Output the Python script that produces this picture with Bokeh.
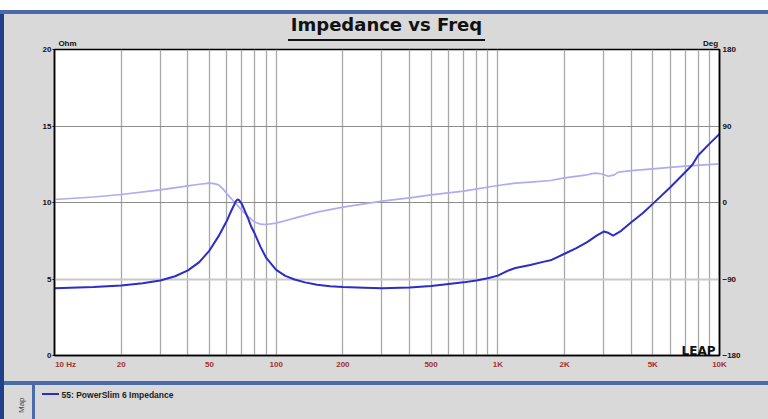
from bokeh.plotting import figure
from bokeh.models import (Range1d, LinearAxis, LinearScale, FixedTicker, Grid,
                          Label, Title)
from bokeh.embed import file_html
from bokeh.resources import INLINE

# ---------------- data ----------------
freq_z = [10, 15, 20, 25, 30, 35, 40, 45, 50, 55, 60, 62, 64, 66, 67, 68, 70, 72,
          75, 77, 80, 85, 90, 100, 110, 121, 135, 153, 175, 200, 250, 300, 400, 500,
          600, 700, 800, 900, 1000, 1100, 1200, 1400, 1600, 1729, 2000, 2250, 2529,
          2800, 3006, 3150, 3314, 3600, 4000, 4500, 5000, 6000, 7000, 7534, 8000,
          9000, 10000]
impedance = [4.40, 4.48, 4.58, 4.72, 4.90, 5.18, 5.56, 6.10, 6.86, 7.80, 8.82, 9.30,
             9.72, 10.12, 10.2, 10.15, 9.90, 9.50, 8.90, 8.45, 7.97, 7.10, 6.40, 5.60,
             5.20, 4.97, 4.78, 4.62, 4.52, 4.47, 4.42, 4.40, 4.45, 4.55, 4.67, 4.78,
             4.90, 5.05, 5.22, 5.52, 5.72, 5.92, 6.12, 6.22, 6.65, 7.00, 7.41, 7.85,
             8.10, 8.02, 7.84, 8.15, 8.71, 9.30, 9.91, 11.0, 11.98, 12.45, 13.07,
             13.83, 14.48]

freq_p = [10, 15, 20, 30, 40, 45, 50, 52.5, 55, 57.5, 60, 64, 67, 70, 75, 80, 85, 90,
          100, 115, 121, 153, 200, 300, 400, 500, 700, 1000, 1200, 1400, 1729, 2000,
          2529, 2750, 2950, 3150, 3350, 3500, 4000, 5000, 7000, 10000]
phase = [3.5, 6.5, 9.4, 14.9, 19.6, 21.5, 22.7, 22.2, 20.8, 16.0, 10.2, 2.0, -3.5,
         -9.4, -17.0, -23.0, -25.5, -25.9, -24.3, -20.0, -18.4, -11.4, -5.5, 1.6, 5.5,
         9.0, 13.3, 20.0, 22.7, 23.9, 25.9, 29.0, 32.6, 34.5, 33.5, 30.9, 32.5, 35.7,
         37.6, 39.6, 42.7, 45.5]

x_ticks = [10, 20, 50, 100, 200, 500, 1000, 2000, 5000, 10000]
x_tick_labels = ["10 Hz", "20", "50", "100", "200", "500", "1K", "2K", "5K", "10K"]
ohm_ticks = [0, 5, 10, 15, 20]
deg_ticks = [-180, -90, 0, 90, 180]
grid_freqs = [m * 10 ** d for d in (1, 2, 3) for m in range(1, 10)] + [10000]

title_text = "Impedance vs Freq"
unit_labels = ["Ohm", "Deg"]
legend_text = "55: PowerSlim 6 Impedance"
panel_text = "Map"

# ---------------- page / figure ----------------
W, H = 768, 419
BLUE_BAR = "#4a6aa9"
Z_COLOR = "#2c2cc8"
P_COLOR = "#b0abf0"
TICK_RED = "#a03232"

bars = [  # (color, width, height, left, top) -- page decoration painted by CSS
    ("#ffffff", 768, 10, 0, 0),
    (BLUE_BAR, 768, 4, 0, 10),
    ("#22408a", 4, 409, 0, 10),
    (BLUE_BAR, 768, 4, 0, 381),
    (BLUE_BAR, 3, 35, 32, 384),
    ("#111111", 197, 2, 288, 39),
    (Z_COLOR, 17, 2, 42, 393),      # legend swatch
]
styles = {
    "background-color": "#d9d9d9",
    "background-image": ", ".join(f"linear-gradient({c},{c})" for c, *_ in bars),
    "background-size": ", ".join(f"{w}px {h}px" for _, w, h, _l, _t in bars),
    "background-position": ", ".join(f"{l}px {t}px" for *_, l, t in bars),
    "background-repeat": "no-repeat",
}

p = figure(width=W, height=H, x_axis_type="log",
           x_range=Range1d(10, 10000), y_range=Range1d(0, 20),
           output_backend="svg", toolbar_location=None,
           min_border_left=54, min_border_right=49,
           min_border_top=49, min_border_bottom=64,
           border_fill_alpha=0, background_fill_color="white",
           outline_line_color="black", outline_line_width=1.5,
           styles=styles)
p.extra_y_ranges = {"deg": Range1d(-180, 180)}
p.extra_x_ranges = {"px": Range1d(54, 719)}
p.extra_x_scales = {"px": LinearScale()}

# grids
p.xgrid.ticker = FixedTicker(ticks=grid_freqs)
p.xgrid.grid_line_color = "#a8a8a8"
p.xgrid.grid_line_width = 1.3
p.ygrid.ticker = FixedTicker(ticks=[5])
p.ygrid.grid_line_color = "#c8c8c8"
p.ygrid.grid_line_width = 2
p.add_layout(Grid(dimension=1, ticker=FixedTicker(ticks=[10, 15]),
                  grid_line_color="#8c8c8c", grid_line_width=1))


def style_axis(ax, color="#111111", size="8px", font="Liberation Sans",
               tick_out=0, standoff=2, line=True):
    ax.major_label_text_color = color
    ax.major_label_text_font = font
    ax.major_label_text_font_style = "bold"
    ax.major_label_text_font_size = size
    ax.major_label_standoff = standoff
    ax.major_tick_out = tick_out
    ax.major_tick_in = 0
    ax.minor_tick_out = 0
    ax.minor_tick_in = 0
    ax.major_tick_line_color = "black"
    if line:
        ax.axis_line_color = "black"
        ax.axis_line_width = 1.5
    else:
        ax.axis_line_color = None
        ax.major_tick_line_color = None


# bottom frequency axis
xa = p.xaxis[0]
xa.ticker = FixedTicker(ticks=x_ticks)
first = "\u00a0" * 10 + x_tick_labels[0]
xa.major_label_overrides = {t: (first if i == 0 else lab)
                            for i, (t, lab) in enumerate(zip(x_ticks, x_tick_labels))}
style_axis(xa, color=TICK_RED, standoff=4)

# legend row in the lower panel (stacked under the frequency axis)
legend_axis = LinearAxis(x_range_name="px", ticker=FixedTicker(ticks=[117]),
                         major_label_overrides={117: legend_text})
style_axis(legend_axis, color="#222222", size="8.5px", standoff=18, line=False)
p.add_layout(legend_axis, "below")

# left ohm axis
ya = p.yaxis[0]
ya.ticker = FixedTicker(ticks=ohm_ticks)
style_axis(ya, tick_out=2, standoff=1)

# right degree axis
ra = LinearAxis(y_range_name="deg", ticker=FixedTicker(ticks=deg_ticks))
style_axis(ra, tick_out=0, standoff=3)
p.add_layout(ra, "right")

# top rows: unit names, then the title (stacked outward from the frame)
unit_axis = LinearAxis(x_range_name="px", ticker=FixedTicker(ticks=[67, 710]),
                       major_label_overrides={67: unit_labels[0], 710: unit_labels[1]})
style_axis(unit_axis, standoff=2, line=False)
p.add_layout(unit_axis, "above")

title_axis = LinearAxis(x_range_name="px", ticker=FixedTicker(ticks=[386]),
                        major_label_overrides={386: title_text})
style_axis(title_axis, size="18px", font="DejaVu Sans", standoff=1, line=False)
p.add_layout(title_axis, "above")

# curves
p.line(freq_p, phase, y_range_name="deg", line_color=P_COLOR, line_width=1.7,
       line_join="round")
p.line(freq_z, impedance, line_color=Z_COLOR, line_width=2, line_join="round")

# "Map" side caption
p.add_layout(Title(text=panel_text, align="left", offset=-57.5, standoff=28,
                   text_font="Liberation Sans", text_font_size="8px",
                   text_font_style="normal", text_color="#444444"), "left")

# LEAP logo inside the frame
p.add_layout(Label(text="LEAP", x=698, y=350, x_units="canvas", y_units="canvas",
                   text_font="DejaVu Sans", text_font_size="12px",
                   text_font_style="bold", text_color="#111111",
                   text_align="center", text_baseline="alphabetic"))

open("out.html", "w").write(file_html(p, INLINE))
